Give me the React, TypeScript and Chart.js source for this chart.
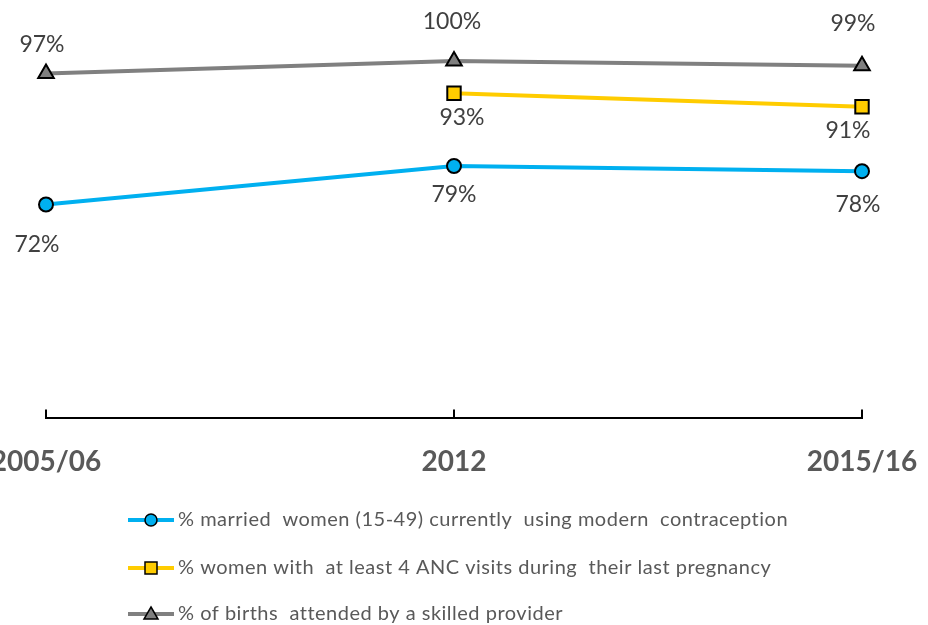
import React, { useEffect, useRef } from "react";
import { Chart, registerables } from "chart.js";

Chart.register(...registerables);

const categories = ["2005/06", "2012", "2015/16"];
const contraception = [72.0, 79.4, 78.4];
const ancVisits = [null, 93.4, 90.8];
const skilledBirths = [97.2, 99.6, 98.7];
const seriesNames = [
  "% married  women (15-49) currently  using modern  contraception",
  "% women with  at least 4 ANC visits during  their last pregnancy",
  "% of births  attended by a skilled provider",
];

// label offsets (dx, dy) relative to each point, per dataset
const labelOffsets = [
  [[-9, 40], [0, 29], [-4, 33]],
  [[0, 0], [8, 24], [-14, 24]],
  [[-4, -29], [-2, -39], [-9, -42]],
];

const FONT = "Lato, 'Open Sans', sans-serif";

const labelPlugin = {
  id: "pointLabels",
  afterDatasetsDraw(chart: any) {
    const ctx = chart.ctx;
    ctx.save();
    ctx.font = `23px ${FONT}`;
    ctx.fillStyle = "#404040";
    ctx.textAlign = "center";
    ctx.textBaseline = "middle";
    chart.data.datasets.forEach((ds: any, di: number) => {
      const meta = chart.getDatasetMeta(di);
      meta.data.forEach((pt: any, i: number) => {
        const v = ds.data[i];
        if (v === null || v === undefined) return;
        const [dx, dy] = labelOffsets[di][i];
        ctx.fillText(`${Math.round(v)}%`, pt.x + dx, pt.y + dy);
      });
    });
    ctx.restore();
  },
};

const tickPlugin = {
  id: "upTicks",
  afterDraw(chart: any) {
    const ctx = chart.ctx;
    const xs = chart.scales.x;
    ctx.save();
    ctx.strokeStyle = "#000000";
    ctx.lineWidth = 2;
    xs.ticks.forEach((_: any, i: number) => {
      const x = xs.getPixelForTick(i);
      ctx.beginPath();
      ctx.moveTo(x, xs.top);
      ctx.lineTo(x, xs.top - 9);
      ctx.stroke();
    });
    ctx.restore();
  },
};

const legendPlugin = {
  id: "customLegend",
  afterDraw(chart: any) {
    const ctx = chart.ctx;
    const rows = [520, 568, 614];
    ctx.save();
    chart.data.datasets.forEach((ds: any, di: number) => {
      const y = rows[di];
      const x0 = 128;
      const x1 = 174;
      ctx.strokeStyle = ds.borderColor;
      ctx.lineWidth = 4;
      ctx.beginPath();
      ctx.moveTo(x0, y);
      ctx.lineTo(x1, y);
      ctx.stroke();
      ctx.fillStyle = ds.pointBackgroundColor;
      ctx.strokeStyle = "#000000";
      ctx.lineWidth = 1.5;
      const cx = (x0 + x1) / 2;
      ctx.beginPath();
      if (ds.pointStyle === "circle") {
        ctx.arc(cx, y, 6, 0, Math.PI * 2);
      } else if (ds.pointStyle === "rect") {
        ctx.rect(cx - 6, y - 6, 12, 12);
      } else {
        ctx.moveTo(cx, y - 7);
        ctx.lineTo(cx + 7, y + 5);
        ctx.lineTo(cx - 7, y + 5);
        ctx.closePath();
      }
      ctx.fill();
      ctx.stroke();
      ctx.fillStyle = "#595959";
      ctx.font = `20px ${FONT}`;
      (ctx as any).letterSpacing = "0.5px";
      ctx.textAlign = "left";
      ctx.textBaseline = "middle";
      ctx.fillText(seriesNames[di], x1 + 4, y);
      (ctx as any).letterSpacing = "0px";
    });
    ctx.restore();
  },
};

export default function App() {
  const ref = useRef<HTMLCanvasElement | null>(null);
  useEffect(() => {
    document.body.style.margin = "0";
    if (!ref.current) return;
    const chart = new Chart(ref.current, {
      type: "line",
      data: {
        labels: categories,
        datasets: [
          {
            label: seriesNames[0],
            data: contraception,
            borderColor: "#00B0F0",
            backgroundColor: "#00B0F0",
            pointBackgroundColor: "#00B0F0",
            pointBorderColor: "#000000",
            pointBorderWidth: 2,
            pointStyle: "circle",
            pointRadius: 7,
            borderWidth: 4,
          },
          {
            label: seriesNames[1],
            data: ancVisits,
            borderColor: "#FFCC00",
            backgroundColor: "#FFCC00",
            pointBackgroundColor: "#FFCC00",
            pointBorderColor: "#000000",
            pointBorderWidth: 2,
            pointStyle: "rect",
            pointRadius: 9.5,
            borderWidth: 4,
          },
          {
            label: seriesNames[2],
            data: skilledBirths,
            borderColor: "#808080",
            backgroundColor: "#808080",
            pointBackgroundColor: "#7F7F7F",
            pointBorderColor: "#000000",
            pointBorderWidth: 2,
            pointStyle: "triangle",
            pointRadius: 9,
            borderWidth: 4,
          },
        ] as any,
      },
      options: {
        animation: false,
        responsive: false,
        maintainAspectRatio: false,
        layout: { padding: { left: 46, right: 66, top: 10, bottom: 119 } },
        plugins: {
          legend: { display: false },
          tooltip: { enabled: false },
        },
        scales: {
          x: {
            offset: false,
            grid: { display: false, drawTicks: false },
            border: { display: true, color: "#000000", width: 2 },
            ticks: {
              padding: 27,
              color: "#595959",
              font: { family: FONT, size: 28, weight: "bold" },
              maxRotation: 0,
              autoSkip: false,
            },
            afterFit(scale: any) {
              scale.paddingLeft = 0;
              scale.paddingRight = 0;
            },
          },
          y: {
            display: false,
            min: 30.85,
            max: 109.12,
          },
        },
      },
      plugins: [labelPlugin, tickPlugin, legendPlugin],
    });
    return () => chart.destroy();
  }, []);
  return (
    <div style={{ width: 928, height: 625 }}>
      <canvas ref={ref} width={928} height={625} style={{ display: "block" }} />
    </div>
  );
}
